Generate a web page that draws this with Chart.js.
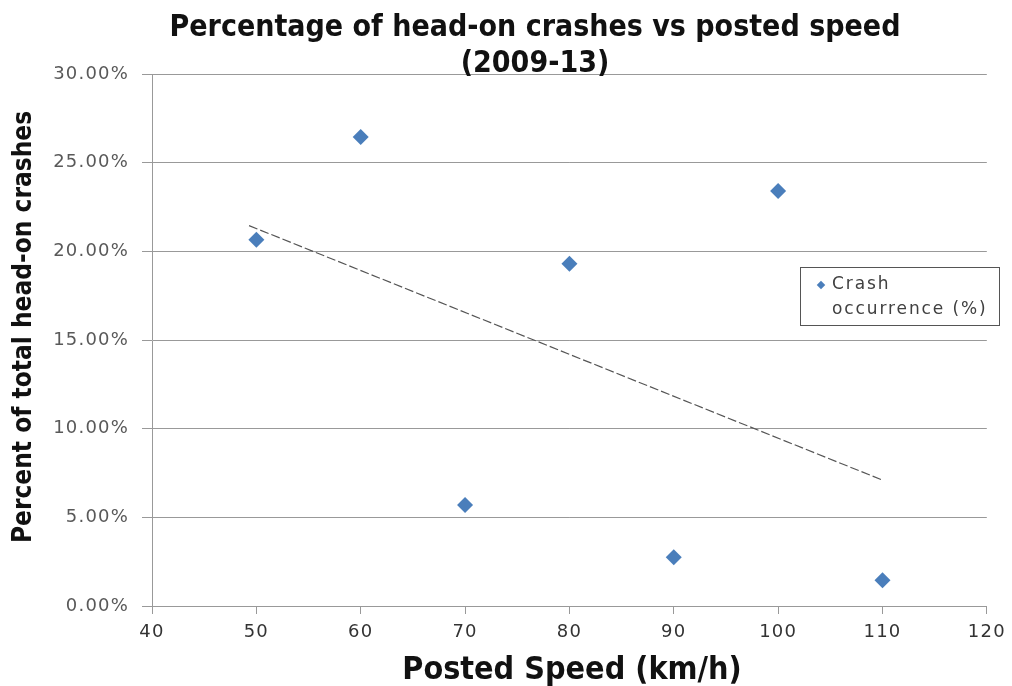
<!DOCTYPE html>
<html><head><meta charset="utf-8">
<script src="https://cdn.jsdelivr.net/npm/chart.js@4"></script>
<style>
html,body{margin:0;padding:0;background:#fff;}
#wrap{position:relative;width:1012px;height:686px;}
.ttl{font-family:"Liberation Sans Narrow","DejaVu Sans Condensed",sans-serif;font-weight:bold;color:#111;white-space:nowrap;}
#title{position:absolute;left:0;width:1070px;top:8px;text-align:center;font-size:30px;line-height:36px;}
#xtitle{position:absolute;left:372px;width:400px;top:648px;text-align:center;font-size:32px;line-height:40px;}
#ytitle{position:absolute;left:22px;top:327px;width:500px;margin-left:-250px;margin-top:-18px;height:36px;line-height:36px;text-align:center;font-size:26px;transform:rotate(-90deg);}
#legend{position:absolute;left:800px;top:267px;width:200px;height:59px;border:1px solid #555;box-sizing:border-box;font-family:"DejaVu Sans",sans-serif;font-size:17px;letter-spacing:1.9px;color:#404040;line-height:25px;padding:3px 0 0 31px;}
#legend .mk{position:absolute;left:17px;top:14px;width:6px;height:6px;background:#4a7ebb;transform:rotate(45deg);}
</style></head>
<body><div id="wrap"><canvas id="c" width="1012" height="686"></canvas>
<div id="title" class="ttl">Percentage of head-on crashes vs posted speed<br>(2009-13)</div>
<div id="xtitle" class="ttl">Posted Speed (km/h)</div>
<div id="ytitle" class="ttl">Percent of total head-on crashes</div>
<div id="legend"><div class="mk"></div>Crash<br>occurrence (%)</div>
</div>
<script>
const speeds = [50, 60, 70, 80, 90, 100, 110];
const crashPct = [20.65, 26.45, 5.7, 19.3, 2.75, 23.4, 1.45];
const trendSpeeds = [49.3, 110];
const trendPct = [21.45, 7.1];
const yTicks = [0, 5, 10, 15, 20, 25, 30];
const xTicks = [40, 50, 60, 70, 80, 90, 100, 110, 120];

const spacing = {
  id: 'spacing',
  beforeDraw(chart) { chart.ctx.letterSpacing = '1.2px'; }
};

new Chart(document.getElementById('c'), {
  type: 'scatter',
  plugins: [spacing],
  data: {
    datasets: [
      {
        label: 'Crash occurrence (%)',
        data: speeds.map((s, i) => ({x: s, y: crashPct[i]})),
        pointStyle: 'rectRot', pointRadius: 8, pointHoverRadius: 8,
        backgroundColor: '#4a7ebb', borderColor: '#4a7ebb', borderWidth: 0
      },
      {
        label: 'trend',
        type: 'line',
        data: trendSpeeds.map((s, i) => ({x: s, y: trendPct[i]})),
        borderColor: '#555', borderWidth: 1.2, borderDash: [9, 3],
        pointRadius: 0, fill: false
      }
    ]
  },
  options: {
    responsive: false, animation: false,
    layout: {padding: {top: 74, right: 25, left: 0, bottom: 0}},
    plugins: {legend: {display: false}, tooltip: {enabled: false}, title: {display: false}},
    scales: {
      x: {
        type: 'linear', min: 40, max: 120,
        afterBuildTicks: ax => { ax.ticks = xTicks.map(v => ({value: v})); },
        afterFit: ax => { ax.height = 80; },
        grid: {drawOnChartArea: false, tickLength: 8, color: '#999'},
        border: {color: '#999'},
        ticks: {color: '#333', font: {family: 'DejaVu Sans', size: 18}, padding: 8}
      },
      y: {
        min: 0, max: 30,
        afterBuildTicks: ax => { ax.ticks = yTicks.map(v => ({value: v})); },
        afterFit: ax => { ax.width = 152; },
        grid: {color: '#999', tickLength: 10},
        border: {color: '#999'},
        ticks: {color: '#595959', font: {family: 'DejaVu Sans', size: 18}, padding: 13,
          callback: v => v.toFixed(2) + '%'}
      }
    }
  }
});
</script></body></html>
